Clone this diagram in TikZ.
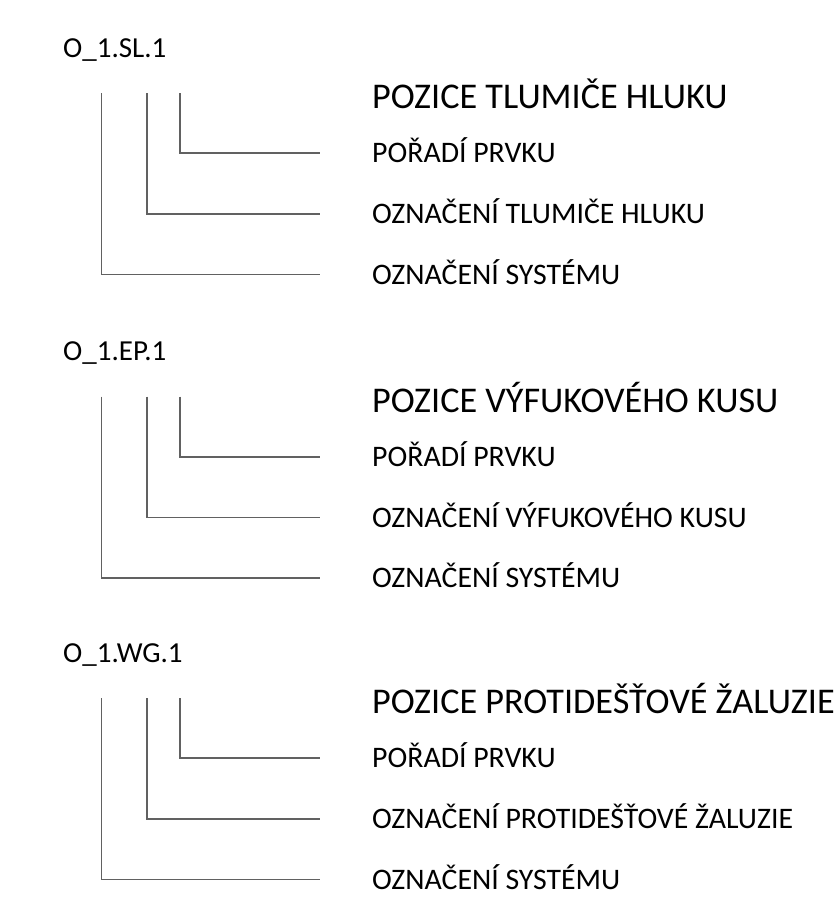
\documentclass[tikz,border=0pt]{standalone}
\usepackage{fontspec}
\setmainfont{Carlito}
\usepackage{tikz}

\begin{document}
\begin{tikzpicture}[x=1pt, y=-1pt,
  idlbl/.style={anchor=base west, inner sep=0pt,
                font=\fontsize{29}{34}\selectfont},
  headlbl/.style={anchor=base west, inner sep=0pt,
                  font=\fontsize{36.2}{42}\selectfont},
  itemlbl/.style={anchor=base west, inner sep=0pt,
                  font=\fontsize{29.8}{34}\selectfont},
  leadline/.style={draw=black!62, line width=1.1pt}
]
\useasboundingbox (0,0) rectangle (837,898);
% noise damper (SL)
\node[idlbl]   (SL)  at (63,57)     {O\_1.SL.1};
\node[headlbl] (SLh) at (372,108.5) {POZICE TLUMIČE HLUKU};
\node[itemlbl] (SL3) at (372,162.6) {POŘADÍ PRVKU};
\node[itemlbl] (SL2) at (372,223.6) {OZNAČENÍ TLUMIČE HLUKU};
\node[itemlbl] (SL1) at (372,284.3) {OZNAČENÍ SYSTÉMU};
\coordinate (SL3t) at (180,93);  \coordinate (SL3e) at (320,153);
\coordinate (SL2t) at (147,93);  \coordinate (SL2e) at (320,214);
\coordinate (SL1t) at (101.5,93);\coordinate (SL1e) at (320,274.7);
\draw[leadline] (SL3t) |- (SL3e);
\draw[leadline] (SL2t) |- (SL2e);
\draw[leadline] (SL1t) |- (SL1e);
% exhaust piece (EP)
\node[idlbl]   (EP)  at (63,360.5)  {O\_1.EP.1};
\node[headlbl] (EPh) at (372,412)   {POZICE VÝFUKOVÉHO KUSU};
\node[itemlbl] (EP3) at (372,466.6) {POŘADÍ PRVKU};
\node[itemlbl] (EP2) at (372,527.1) {OZNAČENÍ VÝFUKOVÉHO KUSU};
\node[itemlbl] (EP1) at (372,587.6) {OZNAČENÍ SYSTÉMU};
\coordinate (EP3t) at (180,396.5);  \coordinate (EP3e) at (320,457);
\coordinate (EP2t) at (147,396.5);  \coordinate (EP2e) at (320,517.5);
\coordinate (EP1t) at (101.5,396.5);\coordinate (EP1e) at (320,578);
\draw[leadline] (EP3t) |- (EP3e);
\draw[leadline] (EP2t) |- (EP2e);
\draw[leadline] (EP1t) |- (EP1e);
% weather grille (WG)
\node[idlbl]   (WG)  at (63,662)    {O\_1.WG.1};
\node[headlbl] (WGh) at (372,713.5) {POZICE PROTIDEŠŤOVÉ ŽALUZIE};
\node[itemlbl] (WG3) at (372,767.6) {POŘADÍ PRVKU};
\node[itemlbl] (WG2) at (372,828.6) {OZNAČENÍ PROTIDEŠŤOVÉ ŽALUZIE};
\node[itemlbl] (WG1) at (372,889.1) {OZNAČENÍ SYSTÉMU};
\coordinate (WG3t) at (180,698);  \coordinate (WG3e) at (320,758);
\coordinate (WG2t) at (147,698);  \coordinate (WG2e) at (320,819);
\coordinate (WG1t) at (101.5,698);\coordinate (WG1e) at (320,879.5);
\draw[leadline] (WG3t) |- (WG3e);
\draw[leadline] (WG2t) |- (WG2e);
\draw[leadline] (WG1t) |- (WG1e);
\end{tikzpicture}
\end{document}
